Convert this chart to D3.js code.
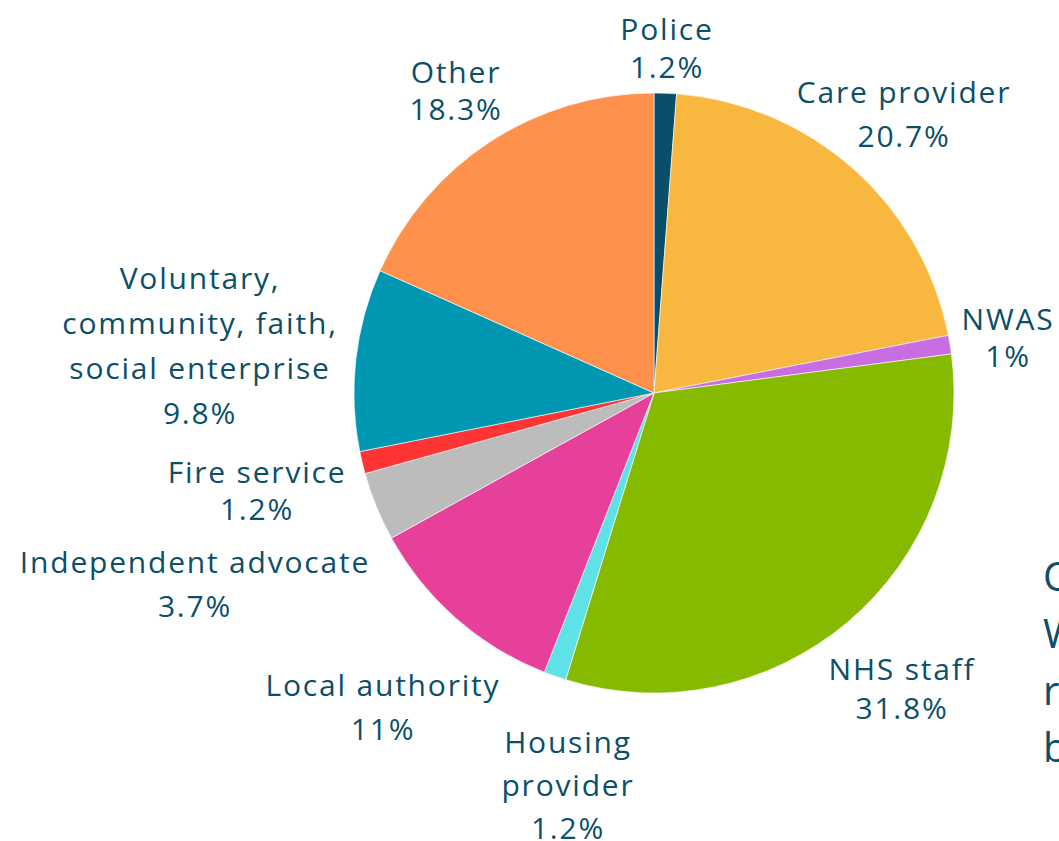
<!DOCTYPE html>
<html>
<head>
<meta charset="utf-8">
<script src="https://cdn.jsdelivr.net/npm/d3@7"></script>
<style>
  html, body { margin: 0; padding: 0; background: #ffffff; overflow: hidden; }
  svg { display: block; }
  text { font-family: "Open Sans", "Noto Sans", sans-serif; fill: #0b4f68; }
</style>
</head>
<body>
<svg id="chart" width="1059" height="841"></svg>
<script>
// Share of referrals by source (percent), clockwise from 12 o'clock
const categories = [
  "Police", "Care provider", "NWAS", "NHS staff", "Housing provider",
  "Local authority", "Independent advocate", "Fire service",
  "Voluntary, community, faith, social enterprise", "Other"
];
const values = [1.2, 20.7, 1, 31.8, 1.2, 11, 3.7, 1.2, 9.8, 18.3];
const valueLabels = ["1.2%", "20.7%", "1%", "31.8%", "1.2%", "11%", "3.7%", "1.2%", "9.8%", "18.3%"];

// Slice colours, same order as categories
const colors = [
  "#0a4f6a", "#f8b83f", "#c96de2", "#86ba00", "#5fe1e8",
  "#e7409a", "#bcbcbc", "#ff3434", "#0097b2", "#fe924d"
];

// Label placement: how each name wraps, where the block is centred, and line spacing
const labelLayout = [
  { lines: ["Police"],                      x: 667,  y: 28,  gap: 38 },
  { lines: ["Care provider"],               x: 904,  y: 91,  gap: 44 },
  { lines: ["NWAS"],                        x: 1008, y: 318, gap: 37 },
  { lines: ["NHS staff"],                   x: 902,  y: 668, gap: 39 },
  { lines: ["Housing", "provider"],         x: 568,  y: 741, gap: 43 },
  { lines: ["Local authority"],             x: 383,  y: 684, gap: 44 },
  { lines: ["Independent advocate"],        x: 195,  y: 561, gap: 44 },
  { lines: ["Fire service"],                x: 257,  y: 471, gap: 37 },
  { lines: ["Voluntary,", "community, faith,", "social enterprise"], x: 200, y: 277, gap: 45 },
  { lines: ["Other"],                       x: 456,  y: 71,  gap: 37 }
];

// Start of the neighbouring text column, running off the right edge
const sideText = ["O", "W", "r", "b"];

const svg = d3.select("#chart");
const cx = 654, cy = 393, radius = 300;

const pie = d3.pie().sort(null).value(d => d)
  .startAngle(0).endAngle(2 * Math.PI);
const arc = d3.arc().innerRadius(0).outerRadius(radius);

const g = svg.append("g").attr("transform", `translate(${cx},${cy})`);
g.selectAll("path")
  .data(pie(values))
  .join("path")
  .attr("d", arc)
  .attr("fill", (d, i) => colors[i])
  .attr("stroke", "#ffffff")
  .attr("stroke-width", 0.6);

// Labels: name lines followed by the value line
const labels = svg.append("g")
  .attr("font-size", 30)
  .attr("letter-spacing", 1.8)
  .attr("text-anchor", "middle");
labelLayout.forEach((lay, i) => {
  const lines = lay.lines.concat([valueLabels[i]]);
  const t = labels.append("text")
    .attr("x", lay.x).attr("y", lay.y)
    .attr("dominant-baseline", "central");
  lines.forEach((ln, k) => {
    t.append("tspan")
      .attr("x", lay.x)
      .attr("y", lay.y + k * lay.gap)
      .text(ln);
  });
});

// Right-hand text column (mostly outside the frame)
svg.append("g").attr("font-size", 40)
  .selectAll("text")
  .data(sideText)
  .join("text")
  .attr("x", 1043)
  .attr("y", (d, i) => 575 + i * 57)
  .attr("dominant-baseline", "central")
  .text(d => d);
</script>
</body>
</html>
